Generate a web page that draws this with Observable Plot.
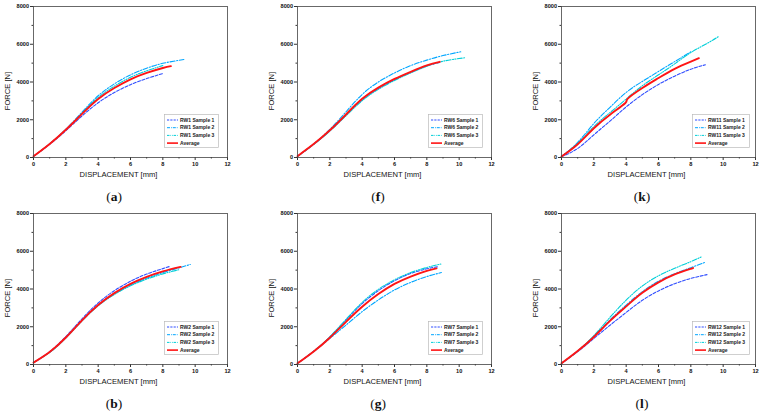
<!DOCTYPE html>
<html>
<head>
<meta charset="utf-8">
<script src="https://cdn.jsdelivr.net/npm/d3@7"></script>
<script src="https://cdn.jsdelivr.net/npm/@observablehq/plot@0.6"></script>
<style>
  html, body { margin: 0; padding: 0; background: #fff; }
  #root { position: relative; width: 761px; height: 418px; overflow: hidden; font-family: "Liberation Sans", Arial, sans-serif; }
  .panel { position: absolute; width: 264px; height: 208px; }
  .lbl { position: absolute; transform: translate(-50%, -50%); white-space: nowrap; color: #111; }
  .xl { font-size: 7.6px; }
  .yl { font-size: 7.6px; transform: translate(-50%, -50%) rotate(-90deg); }
  .letter { font-family: "Liberation Serif", "Times New Roman", serif; font-size: 13.5px; }
  .legend { position: absolute; }
</style>
</head>
<body>
<div id="root"></div>
<script>
// ---------- data (displacement in mm, force in N) ----------
const xTicks = [0, 2, 4, 6, 8, 10, 12];
const yTicks = [0, 2000, 4000, 6000, 8000];
const seriesLabels = ["Sample 1", "Sample 2", "Sample 3", "Average"];
const panelLetters = ["a", "f", "k", "b", "g", "l"];
const panelNames = ["RW1", "RW6", "RW11", "RW2", "RW7", "RW12"];

// RW1 (a)
const RW1_S1_x = [0, 1, 2, 3, 4, 5, 6, 7, 8.0];
const RW1_S1_y = [60, 700, 1420, 2200, 2900, 3440, 3860, 4180, 4450];
const RW1_S2_x = [0, 1, 2, 3, 4, 5, 6, 7, 8, 9.3];
const RW1_S2_y = [60, 730, 1500, 2400, 3270, 3900, 4380, 4730, 4990, 5190];
const RW1_S3_x = [0, 1, 2, 3, 4, 5, 6, 7, 8.0];
const RW1_S3_y = [60, 720, 1480, 2350, 3180, 3780, 4250, 4590, 4870];
const RW1_AV_x = [0, 1, 2, 3, 4, 5, 6, 7, 8, 8.5];
const RW1_AV_y = [70, 720, 1470, 2310, 3100, 3680, 4140, 4480, 4740, 4840];

// RW6 (f)
const RW6_S1_x = [0, 1, 2, 3, 4, 5, 6, 7, 8, 8.8];
const RW6_S1_y = [60, 700, 1420, 2250, 3060, 3650, 4120, 4510, 4850, 5040];
const RW6_S2_x = [0, 1, 2, 3, 4, 5, 6, 7, 8, 9, 10.1];
const RW6_S2_y = [60, 720, 1490, 2420, 3340, 4000, 4480, 4870, 5160, 5400, 5600];
const RW6_S3_x = [0, 1, 2, 3, 4, 5, 6, 7, 8, 9, 10.4];
const RW6_S3_y = [60, 690, 1400, 2210, 3010, 3610, 4080, 4480, 4830, 5100, 5290];
const RW6_AV_x = [0, 1, 2, 3, 4, 5, 6, 7, 8, 8.8];
const RW6_AV_y = [70, 710, 1440, 2280, 3110, 3700, 4160, 4540, 4880, 5070];

// RW11 (k)
const RW11_S1_x = [0, 1, 2, 3, 4, 5, 6, 7, 8, 8.9];
const RW11_S1_y = [40, 480, 1200, 1930, 2680, 3330, 3870, 4310, 4680, 4910];
const RW11_S2_x = [0, 1, 2, 3, 4, 5, 6, 7, 8.0];
const RW11_S2_y = [60, 800, 1800, 2660, 3450, 4030, 4560, 5080, 5600];
const RW11_S3_x = [0, 1, 2, 3, 4, 5, 6, 7, 8, 9, 9.7];
const RW11_S3_y = [60, 750, 1640, 2380, 3100, 3800, 4380, 4960, 5560, 6040, 6400];
const RW11_AV_x = [0, 1, 2, 3, 3.95, 4.1, 5, 6, 7, 8, 8.5];
const RW11_AV_y = [50, 700, 1550, 2270, 2890, 3120, 3680, 4210, 4700, 5080, 5260];

// RW2 (b)
const RW2_S1_x = [0, 1, 2, 3, 4, 5, 6, 7, 8, 8.4];
const RW2_S1_y = [100, 680, 1480, 2420, 3260, 3910, 4410, 4790, 5080, 5190];
const RW2_S2_x = [0, 1, 2, 3, 4, 5, 6, 7, 8, 9, 9.7];
const RW2_S2_y = [100, 650, 1420, 2330, 3140, 3740, 4210, 4570, 4870, 5120, 5300];
const RW2_S3_x = [0, 1, 2, 3, 4, 5, 6, 7, 8, 9.0];
const RW2_S3_y = [100, 640, 1400, 2310, 3110, 3710, 4170, 4520, 4800, 5020];
const RW2_AV_x = [0, 1, 2, 3, 4, 5, 6, 7, 8, 9.1];
const RW2_AV_y = [100, 660, 1430, 2340, 3150, 3780, 4270, 4640, 4930, 5170];

// RW7 (g)
const RW7_S1_x = [0, 1, 2, 3, 4, 5, 6, 7, 8, 8.7];
const RW7_S1_y = [60, 700, 1460, 2360, 3230, 3910, 4440, 4820, 5070, 5180];
const RW7_S2_x = [0, 1, 2, 3, 4, 5, 6, 7, 8, 8.9];
const RW7_S2_y = [60, 680, 1380, 2090, 2800, 3420, 3950, 4350, 4660, 4870];
const RW7_S3_x = [0, 1, 2, 3, 4, 5, 6, 7, 8, 8.9];
const RW7_S3_y = [60, 700, 1470, 2390, 3290, 3980, 4490, 4870, 5140, 5330];
const RW7_AV_x = [0, 1, 2, 3, 4, 5, 6, 7, 8, 8.6];
const RW7_AV_y = [60, 690, 1420, 2260, 3060, 3730, 4270, 4660, 4960, 5090];

// RW12 (l)
const RW12_S1_x = [0, 1, 2, 3, 4, 5, 6, 7, 8, 9.0];
const RW12_S1_y = [60, 680, 1380, 2080, 2760, 3400, 3900, 4280, 4560, 4760];
const RW12_S2_x = [0, 1, 2, 3, 4, 5, 6, 7, 8, 8.9];
const RW12_S2_y = [60, 720, 1500, 2360, 3150, 3860, 4410, 4810, 5130, 5420];
const RW12_S3_x = [0, 1, 2, 3, 4, 5, 6, 7, 8, 8.7];
const RW12_S3_y = [60, 720, 1530, 2500, 3410, 4160, 4700, 5100, 5450, 5720];
const RW12_AV_x = [0, 1, 2, 3, 4, 5, 6, 7, 8, 8.1];
const RW12_AV_y = [60, 710, 1460, 2310, 3080, 3800, 4350, 4770, 5070, 5100];

const panelData = [
  [[RW1_S1_x, RW1_S1_y], [RW1_S2_x, RW1_S2_y], [RW1_S3_x, RW1_S3_y], [RW1_AV_x, RW1_AV_y]],
  [[RW6_S1_x, RW6_S1_y], [RW6_S2_x, RW6_S2_y], [RW6_S3_x, RW6_S3_y], [RW6_AV_x, RW6_AV_y]],
  [[RW11_S1_x, RW11_S1_y], [RW11_S2_x, RW11_S2_y], [RW11_S3_x, RW11_S3_y], [RW11_AV_x, RW11_AV_y]],
  [[RW2_S1_x, RW2_S1_y], [RW2_S2_x, RW2_S2_y], [RW2_S3_x, RW2_S3_y], [RW2_AV_x, RW2_AV_y]],
  [[RW7_S1_x, RW7_S1_y], [RW7_S2_x, RW7_S2_y], [RW7_S3_x, RW7_S3_y], [RW7_AV_x, RW7_AV_y]],
  [[RW12_S1_x, RW12_S1_y], [RW12_S2_x, RW12_S2_y], [RW12_S3_x, RW12_S3_y], [RW12_AV_x, RW12_AV_y]]
];

// ---------- styles ----------
const styles = [
  {stroke: "#2f4dff", dash: "3,1.6", legDash: "2.2,1.1", width: 1.1},
  {stroke: "#00a6ff", dash: "5,1.6,1.2,1.6", legDash: "3,1,0.8,1", width: 1.1},
  {stroke: "#00cfd8", dash: "5,1.4,1,1.4,1,1.4", legDash: "2.5,0.9,0.7,0.9,0.7,0.9", width: 1.1},
  {stroke: "#ff1414", dash: null, legDash: null, width: 1.9}
];

const W = 250, H = 175;
const M = {top: 6, right: 23, bottom: 18, left: 33};
const origins = [[0, 0], [264, 0], [528, 0], [0, 207], [264, 207], [528, 207]];

const root = document.getElementById("root");

panelData.forEach((curves, pi) => {
  const [ox, oy] = origins[pi];
  const div = document.createElement("div");
  div.className = "panel";
  div.style.left = ox + "px";
  div.style.top = oy + "px";
  root.appendChild(div);

  const marks = [];
  curves.forEach(([xs, ys], si) => {
    const rows = xs.map((x, i) => ({x, y: ys[i]}));
    const st = styles[si];
    marks.push(Plot.line(rows, {
      x: "x", y: "y", stroke: st.stroke, strokeWidth: st.width,
      strokeDasharray: st.dash || undefined, curve: "natural"
    }));
  });
  // minor ticks
  marks.push(Plot.axisX(d3.range(1, 12, 2), {tickSize: 1.5, text: null, label: null, stroke: "#333"}));
  marks.push(Plot.axisY(d3.range(1000, 8000, 2000), {tickSize: 1.5, text: null, label: null, stroke: "#333"}));
  // major ticks
  marks.push(Plot.axisX(xTicks, {tickSize: 3, tickPadding: 1.5, stroke: "#333", label: null,
    tickFormat: d3.format("d"), fontSize: 5.6, fontWeight: "bold", fill: "#111"}));
  marks.push(Plot.axisY(yTicks, {tickSize: 3, tickPadding: 1.5, stroke: "#333", label: null,
    tickFormat: d3.format("d"), fontSize: 5.6, fontWeight: "bold", fill: "#111"}));
  marks.push(Plot.frame({stroke: "#444", strokeWidth: 0.8}));

  const svg = Plot.plot({
    width: W, height: H,
    marginTop: M.top, marginRight: M.right, marginBottom: M.bottom, marginLeft: M.left,
    style: {fontFamily: "'Liberation Sans', Arial, sans-serif", background: "transparent", overflow: "visible"},
    x: {domain: [0, 12], label: null},
    y: {domain: [0, 8000], label: null},
    marks
  });
  svg.style.position = "absolute";
  svg.style.left = "0px";
  svg.style.top = "0px";
  div.appendChild(svg);

  // axis titles
  const xl = document.createElement("div");
  xl.className = "lbl xl";
  xl.textContent = "DISPLACEMENT [mm]";
  xl.style.left = (M.left + 85.5) + "px";
  xl.style.top = (M.top + 168) + "px";
  div.appendChild(xl);

  const yl = document.createElement("div");
  yl.className = "lbl yl";
  yl.textContent = "FORCE [N]";
  yl.style.left = (M.left - 26.5) + "px";
  yl.style.top = (M.top + 84.5) + "px";
  div.appendChild(yl);

  const lt = document.createElement("div");
  lt.className = "lbl letter";
  lt.innerHTML = "(<b>" + panelLetters[pi] + "</b>)";
  lt.style.left = (M.left + 81) + "px";
  lt.style.top = (M.top + 191) + "px";
  div.appendChild(lt);

  // legend
  const name = panelNames[pi];
  const lw = name.length > 3 ? 58 : 55, lh = 34;
  const leg = d3.create("svg").attr("width", lw).attr("height", lh)
    .attr("class", "legend")
    .style("left", (M.left + 131) + "px").style("top", (M.top + 108) + "px");
  leg.append("rect").attr("x", 0.4).attr("y", 0.4).attr("width", lw - 0.8).attr("height", lh - 0.8)
    .attr("fill", "#fff").attr("stroke", "#bbb").attr("stroke-width", 0.7);
  seriesLabels.forEach((lab, si) => {
    const yy = 6 + si * 7.7;
    const st = styles[si];
    leg.append("line").attr("x1", 3).attr("x2", 14).attr("y1", yy).attr("y2", yy)
      .attr("stroke", st.stroke).attr("stroke-width", si === 3 ? 1.6 : 1)
      .attr("stroke-dasharray", st.legDash);
    leg.append("text").attr("x", 16).attr("y", yy).attr("dy", "0.35em")
      .attr("font-size", 5).attr("font-weight", "bold").attr("fill", "#222")
      .attr("font-family", "'Liberation Sans', Arial, sans-serif")
      .text(si === 3 ? lab : name + " " + lab);
  });
  div.appendChild(leg.node());
});
</script>
</body>
</html>
